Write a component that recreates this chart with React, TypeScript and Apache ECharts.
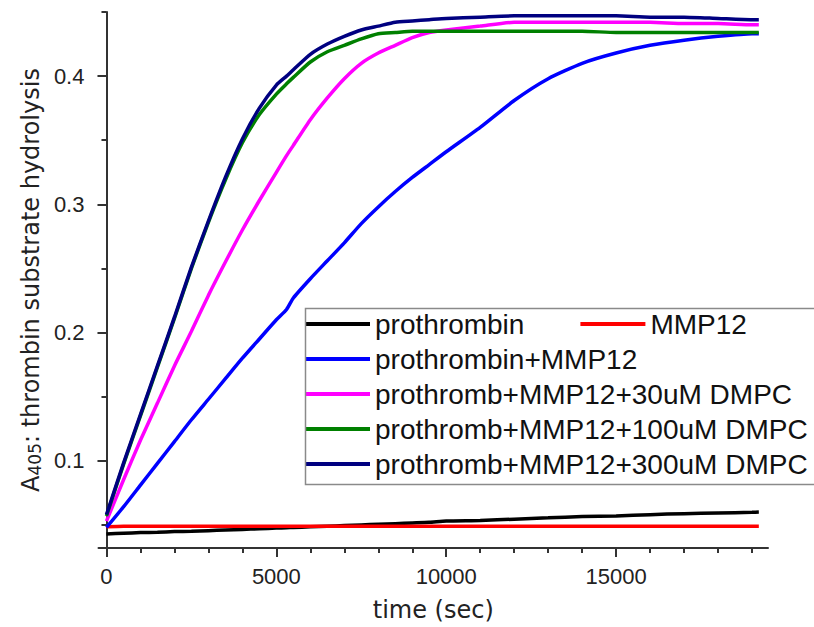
import React, { useEffect, useRef } from "react";
import * as echarts from "echarts";

// time (sec)
const timeSec = [0, 500, 1000, 1500, 2000, 2500, 3000, 3500, 4000, 4500, 5000, 5300, 5500, 6000, 6500, 7000, 7500, 8000, 8500, 9000, 9500, 10000, 11000, 12000, 13000, 14000, 15000, 16000, 17000, 18000, 19000, 19200];

const prothrombin = [0.043, 0.0435, 0.044, 0.0443, 0.0448, 0.045, 0.0455, 0.046, 0.0465, 0.047, 0.0475, 0.0478, 0.048, 0.0485, 0.049, 0.0495, 0.05, 0.0505, 0.051, 0.0515, 0.052, 0.053, 0.0535, 0.0545, 0.0555, 0.0565, 0.057, 0.058, 0.0588, 0.0593, 0.0598, 0.06];
const mmp12 = [0.0485, 0.049, 0.049, 0.049, 0.049, 0.049, 0.049, 0.049, 0.049, 0.049, 0.049, 0.049, 0.049, 0.049, 0.049, 0.049, 0.049, 0.049, 0.049, 0.049, 0.049, 0.049, 0.049, 0.049, 0.049, 0.049, 0.049, 0.049, 0.049, 0.049, 0.049, 0.049];
const prothrombinMmp12 = [0.048, 0.064, 0.081, 0.098, 0.115, 0.132, 0.148, 0.164, 0.18, 0.195, 0.21, 0.218, 0.227, 0.242, 0.256, 0.27, 0.285, 0.298, 0.31, 0.321, 0.331, 0.341, 0.36, 0.381, 0.398, 0.41, 0.418, 0.424, 0.428, 0.431, 0.433, 0.433];
const dmpc30 = [0.053, 0.085, 0.116, 0.145, 0.174, 0.201, 0.229, 0.255, 0.28, 0.303, 0.325, 0.338, 0.346, 0.366, 0.383, 0.398, 0.41, 0.418, 0.424, 0.43, 0.434, 0.436, 0.439, 0.442, 0.442, 0.442, 0.442, 0.442, 0.441, 0.441, 0.44, 0.44];
const dmpc100 = [0.057, 0.097, 0.135, 0.173, 0.211, 0.25, 0.286, 0.319, 0.348, 0.37, 0.386, 0.394, 0.399, 0.411, 0.419, 0.424, 0.429, 0.433, 0.434, 0.435, 0.435, 0.435, 0.435, 0.435, 0.435, 0.435, 0.434, 0.434, 0.434, 0.434, 0.434, 0.434];
const dmpc300 = [0.058, 0.098, 0.136, 0.174, 0.212, 0.251, 0.287, 0.321, 0.351, 0.375, 0.393, 0.4, 0.405, 0.417, 0.425, 0.431, 0.436, 0.439, 0.442, 0.443, 0.444, 0.445, 0.446, 0.447, 0.447, 0.447, 0.447, 0.446, 0.446, 0.445, 0.444, 0.444];

const seriesNames = [
  "prothrombin",
  "MMP12",
  "prothrombin+MMP12",
  "prothromb+MMP12+30uM DMPC",
  "prothromb+MMP12+100uM DMPC",
  "prothromb+MMP12+300uM DMPC",
];
const seriesValues = [prothrombin, mmp12, prothrombinMmp12, dmpc30, dmpc100, dmpc300];
const seriesColors = ["#000000", "#ff0000", "#0000ff", "#ff00ff", "#008000", "#000080"];

const xMajorTicks = [0, 5000, 10000, 15000];
const xMinorTicks = [1000, 2000, 3000, 4000, 6000, 7000, 8000, 9000, 11000, 12000, 13000, 14000, 16000, 17000, 18000, 19000];
const yMajorTicks = [0.1, 0.2, 0.3, 0.4];
const yMinorTicks = [0.05, 0.15, 0.25, 0.35, 0.45];

const X_MIN = -235;
const X_MAX = 19470;
const Y_MIN = 0.032;
const Y_MAX = 0.45;

export default function App() {
  const ref = useRef<HTMLDivElement>(null);
  useEffect(() => {
    if (!ref.current) return;
    const chart = echarts.init(ref.current, undefined, { renderer: "svg" });
    const axisColor = "#333";
    const textColor = "#222";
    const tickFont = "Liberation Sans";
    const titleFont = "DejaVu Sans";
    const legendFont = "Liberation Sans";
    const legendCommon = {
      padding: 0,
      itemWidth: 65,
      itemHeight: 4,
      icon: "rect",
      textStyle: { fontSize: 28, fontFamily: legendFont, color: "#111" },
    };
    const option: any = {
      animation: false,
      backgroundColor: "#ffffff",
      grid: { left: 97, right: 46, top: 12, bottom: 77 },
      xAxis: [
        {
          type: "value",
          position: "bottom",
          min: X_MIN,
          max: X_MAX,
          axisLine: { show: true, lineStyle: { color: axisColor, width: 2 } },
          axisTick: { show: true, customValues: xMajorTicks, length: 9, lineStyle: { color: axisColor, width: 2 } },
          axisLabel: { customValues: xMajorTicks, fontSize: 22, fontFamily: tickFont, color: textColor, margin: 17, formatter: (v: number) => String(Math.round(v)) },
          splitLine: { show: false },
          name: "time (sec)",
          nameLocation: "middle",
          nameGap: 50,
          nameTextStyle: { fontSize: 24, fontFamily: titleFont, color: textColor },
        },
        {
          type: "value",
          position: "bottom",
          min: X_MIN,
          max: X_MAX,
          axisLine: { show: false },
          axisTick: { show: true, customValues: xMinorTicks, length: 5, lineStyle: { color: axisColor, width: 2 } },
          axisLabel: { show: false },
          splitLine: { show: false },
        },
      ],
      yAxis: [
        {
          type: "value",
          position: "left",
          min: Y_MIN,
          max: Y_MAX,
          axisLine: { show: true, lineStyle: { color: axisColor, width: 2 } },
          axisTick: { show: true, customValues: yMajorTicks, length: 9, lineStyle: { color: axisColor, width: 2 } },
          axisLabel: { customValues: yMajorTicks, fontSize: 22, fontFamily: tickFont, color: textColor, margin: 14, formatter: (v: number) => v.toFixed(1) },
          splitLine: { show: false },
          name: "{a|A}{s|405}{a|: thrombin substrate hydrolysis}",
          nameLocation: "middle",
          nameRotate: 90,
          nameGap: 52,
          nameTextStyle: {
            fontSize: 24,
            fontFamily: titleFont,
            color: textColor,
            rich: {
              a: { fontSize: 24, fontFamily: titleFont, color: textColor, lineHeight: 24, verticalAlign: "top" },
              s: { fontSize: 17, fontFamily: titleFont, color: textColor, lineHeight: 17, verticalAlign: "bottom", padding: [18, 0, 0, 0] },
            },
          },
        },
        {
          type: "value",
          position: "left",
          min: Y_MIN,
          max: Y_MAX,
          axisLine: { show: false },
          axisTick: { show: true, customValues: yMinorTicks, length: 5, lineStyle: { color: axisColor, width: 2 } },
          axisLabel: { show: false },
          splitLine: { show: false },
        },
      ],
      legend: [
        {
          ...legendCommon,
          data: seriesNames.slice(0, 2),
          orient: "horizontal",
          left: 305,
          top: 310,
          itemGap: 56,
        },
        {
          ...legendCommon,
          data: seriesNames.slice(2),
          orient: "vertical",
          left: 305,
          top: 345,
          itemGap: 7,
        },
      ],
      graphic: [
        {
          type: "rect",
          left: 303,
          top: 306,
          shape: { width: 510, height: 176 },
          style: { fill: "none", stroke: "#8a8a8a", lineWidth: 1.5 },
          z: 100,
        },
      ],
      series: seriesNames.map((name, i) => ({
        name,
        type: "line",
        symbol: "none",
        smooth: 0.2,
        data: timeSec.map((t, j) => [t, seriesValues[i][j]]),
        lineStyle: { color: seriesColors[i], width: 3.5 },
        itemStyle: { color: seriesColors[i] },
        z: 2 + i,
      })),
    };
    chart.setOption(option);
    return () => chart.dispose();
  }, []);
  return <div ref={ref} style={{ position: "fixed", left: 0, top: 0, width: 814, height: 627 }} />;
}
